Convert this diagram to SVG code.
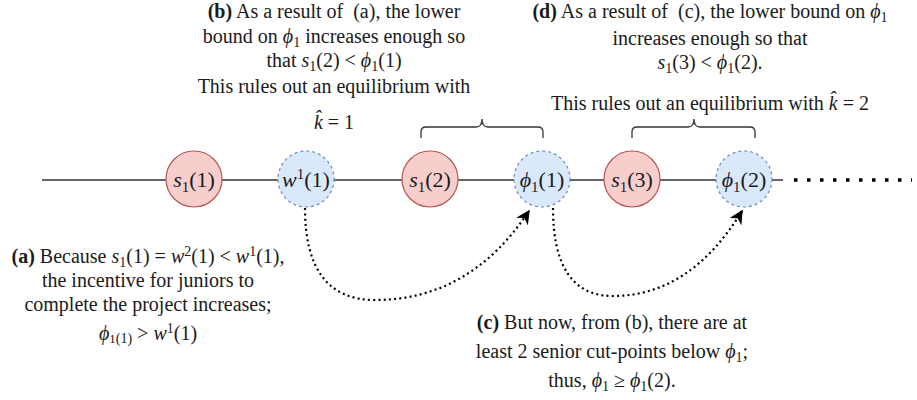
<svg xmlns="http://www.w3.org/2000/svg" width="917" height="400" viewBox="0 0 917 400">
<defs>
<style>
text{font-family:"Liberation Serif","Times New Roman","DejaVu Serif",serif;font-size:20px;fill:#1a1a1a;text-anchor:middle}
.m{font-style:italic}
.b{font-weight:bold}
.lbl{font-size:22px}
.red{fill:#f8cecc;stroke:#b85450;stroke-width:1.2}
.blue{fill:#dae8fc;stroke:#6c8ebf;stroke-width:1.2;stroke-dasharray:3 3}
.ln{stroke:#333;stroke-width:1.3;fill:none}
.dots{stroke:#000;stroke-width:3.5;stroke-dasharray:3.5 9.5;fill:none}
.arc{stroke:#000;stroke-width:2.2;stroke-dasharray:2 3.2;fill:none;marker-end:url(#ah)}
.brace{stroke:#333;stroke-width:1.3;fill:none}
</style>
<marker id="ah" viewBox="0 0 10 10" refX="9" refY="5" markerWidth="14" markerHeight="14" markerUnits="userSpaceOnUse" orient="auto">
<path d="M0,0 L10,5 L0,10 L3,5 Z" fill="#000"/>
</marker>
</defs>
<rect width="917" height="400" fill="#fff"/>

<g id="connectors">
<path class="ln" d="M42,180 H166 M222,180 H278 M334,180 H402 M458,180 H514 M570,180 H604 M660,180 H716 M772,180 H783"/>
<path class="dots" d="M794,180 H912"/>
<path class="arc" d="M305,208 Q305,300 375,300 Q470,300 529,211"/>
<path class="arc" d="M553,208 Q553,296 613,296 Q690,296 742,211"/>
</g>

<g id="brace1"><path class="brace" d="M421,138 L421,132 Q421,127 426,127 L476,127 Q482,127 482,119 Q482,127 488,127 L538,127 Q543,127 543,132 L543,138"/></g>
<g id="brace2"><path class="brace" d="M632,138 L632,132 Q632,127 637,127 L688,127 Q694,127 694,119 Q694,127 700,127 L750,127 Q755,127 755,132 L755,138"/></g>

<g id="n-s1-1"><circle class="red" cx="194" cy="179" r="28"/>
<text class="lbl" x="194" y="187"><tspan class="m">s</tspan><tspan font-size="15" dy="5">1</tspan><tspan dy="-5">(1)</tspan></text></g>
<g id="n-w1-1"><circle class="blue" cx="306" cy="179" r="28"/>
<text class="lbl" x="306" y="187"><tspan class="m">w</tspan><tspan font-size="15" dy="-8">1</tspan><tspan dy="8">(1)</tspan></text></g>
<g id="n-s1-2"><circle class="red" cx="430" cy="179" r="28"/>
<text class="lbl" x="430" y="187"><tspan class="m">s</tspan><tspan font-size="15" dy="5">1</tspan><tspan dy="-5">(2)</tspan></text></g>
<g id="n-phi1-1"><circle class="blue" cx="542" cy="179" r="28"/>
<text class="lbl" x="542" y="187"><tspan class="m">ϕ</tspan><tspan font-size="15" dy="5">1</tspan><tspan dy="-5">(1)</tspan></text></g>
<g id="n-s1-3"><circle class="red" cx="632" cy="179" r="28"/>
<text class="lbl" x="632" y="187"><tspan class="m">s</tspan><tspan font-size="15" dy="5">1</tspan><tspan dy="-5">(3)</tspan></text></g>
<g id="n-phi1-2"><circle class="blue" cx="744" cy="179" r="28"/>
<text class="lbl" x="744" y="187"><tspan class="m">ϕ</tspan><tspan font-size="15" dy="5">1</tspan><tspan dy="-5">(2)</tspan></text></g>

<g id="note-b">
<text x="334" y="18"><tspan class="b">(b)</tspan> As a result of&#160; (a), the lower</text>
<text x="334" y="43">bound on <tspan class="m">ϕ</tspan><tspan font-size="14" dy="4">1</tspan><tspan dy="-4"> increases enough so</tspan></text>
<text x="334" y="67">that <tspan class="m">s</tspan><tspan font-size="14" dy="4">1</tspan><tspan dy="-4">(2) &lt; </tspan><tspan class="m">ϕ</tspan><tspan font-size="14" dy="4">1</tspan><tspan dy="-4">(1)</tspan></text>
<text x="334" y="93">This rules out an equilibrium with</text>
<text x="334" y="129"><tspan class="m">k̂</tspan> = 1</text>
</g>

<g id="note-d">
<text x="710" y="18"><tspan class="b">(d)</tspan> As a result of&#160; (c), the lower bound on <tspan class="m">ϕ</tspan><tspan font-size="14" dy="4">1</tspan></text>
<text x="710" y="45">increases enough so that</text>
<text x="710" y="69"><tspan class="m">s</tspan><tspan font-size="14" dy="4">1</tspan><tspan dy="-4">(3) &lt; </tspan><tspan class="m">ϕ</tspan><tspan font-size="14" dy="4">1</tspan><tspan dy="-4">(2).</tspan></text>
<text x="710" y="110">This rules out an equilibrium with <tspan class="m">k̂</tspan> = 2</text>
</g>

<g id="note-a">
<text x="148" y="263"><tspan class="b">(a)</tspan> Because <tspan class="m">s</tspan><tspan font-size="14" dy="4">1</tspan><tspan dy="-4">(1) = </tspan><tspan class="m">w</tspan><tspan font-size="14" dy="-7">2</tspan><tspan dy="7">(1) &lt; </tspan><tspan class="m">w</tspan><tspan font-size="14" dy="-7">1</tspan><tspan dy="7">(1),</tspan></text>
<text x="148" y="287">the incentive for juniors to</text>
<text x="148" y="311">complete the project increases;</text>
<text x="148" y="340"><tspan class="m">ϕ</tspan><tspan font-size="13" dy="3">1</tspan><tspan font-size="14">(1)</tspan><tspan dy="-3"> &gt; </tspan><tspan class="m">w</tspan><tspan font-size="14" dy="-7">1</tspan><tspan dy="7">(1)</tspan></text>
</g>

<g id="note-c">
<text x="612" y="329"><tspan class="b">(c)</tspan> But now, from (b), there are at</text>
<text x="612" y="358">least 2 senior cut-points below <tspan class="m">ϕ</tspan><tspan font-size="14" dy="4">1</tspan><tspan dy="-4">;</tspan></text>
<text x="612" y="387">thus, <tspan class="m">ϕ</tspan><tspan font-size="14" dy="4">1</tspan><tspan dy="-4"> ≥ </tspan><tspan class="m">ϕ</tspan><tspan font-size="14" dy="4">1</tspan><tspan dy="-4">(2).</tspan></text>
</g>
</svg>
